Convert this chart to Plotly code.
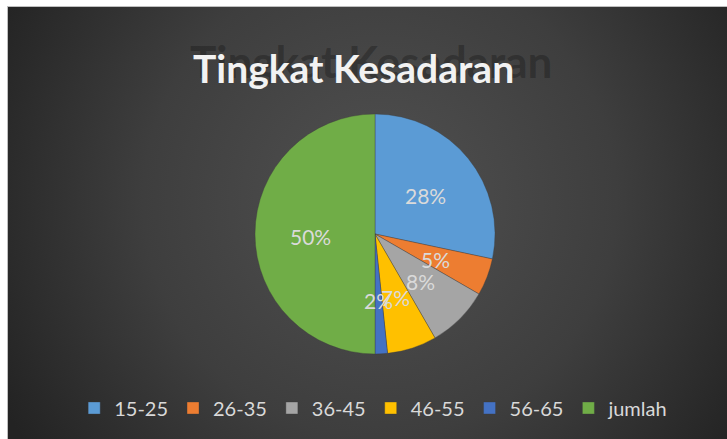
import base64
import math
import plotly.graph_objects as go

categories = ["15-25", "26-35", "36-45", "46-55", "56-65", "jumlah"]
values = [17, 3, 5, 4, 1, 30]
colors = ["#5B9BD5", "#ED7D31", "#A5A5A5", "#FFC000", "#4472C4", "#70AD47"]
title_text = "Tingkat Kesadaran"

W, H = 727, 439
# pie placement (pixels)
CX, CY, R = 375, 234, 120

svg = f'''<svg xmlns="http://www.w3.org/2000/svg" width="{W}" height="{H}">
<defs><radialGradient id="g" cx="380" cy="200" r="430" gradientUnits="userSpaceOnUse">
<stop offset="0" stop-color="#515151"/><stop offset="0.55" stop-color="#3e3e3e"/><stop offset="1" stop-color="#232323"/>
</radialGradient></defs>
<rect x="0" y="0" width="{W}" height="{H}" fill="#ffffff"/>
<rect x="8" y="7" width="{W-8}" height="{H-7}" fill="url(#g)"/>
<rect x="7.5" y="6.5" width="{W-7}" height="{H-6}" fill="none" stroke="#bfbfbf" stroke-width="1"/>
</svg>'''
src = "data:image/svg+xml;base64," + base64.b64encode(svg.encode()).decode()

fig = go.Figure(go.Pie(
    labels=categories,
    values=values,
    sort=False,
    direction="clockwise",
    rotation=0,
    marker=dict(colors=colors, line=dict(color="rgba(60,60,60,0.6)", width=0.6)),
    textinfo="none",
    domain=dict(x=[(CX - R) / W, (CX + R) / W], y=[1 - (CY + R) / H, 1 - (CY - R) / H]),
    hoverinfo="label+percent",
))

# data labels placed Excel-style along each slice's mid angle
total = sum(values)
annotations = []
cum = 0
for v in values:
    frac = v / total
    mid = (cum + frac / 2) * 2 * math.pi
    cum += frac
    r = 0.54 * R
    px = CX + r * math.sin(mid)
    py = CY - r * math.cos(mid) + 2
    annotations.append(dict(text=f"{frac*100:.0f}%", x=px / W, y=1 - py / H, xref="paper", yref="paper",
                            xanchor="center", yanchor="middle", showarrow=False,
                            font=dict(family="Lato", size=21, color="#dadada")))

annotations = [
    dict(text="<b>" + title_text + "</b>", x=371 / W, y=1 - 61 / H, xref="paper", yref="paper",
         xanchor="center", yanchor="middle", showarrow=False,
         font=dict(family="Lato", size=44, color="rgba(10,10,10,0.3)")),
    dict(text="<b>" + title_text + "</b>", x=353 / W, y=1 - 68 / H, xref="paper", yref="paper",
         xanchor="center", yanchor="middle", showarrow=False,
         font=dict(family="Lato", size=39, color="#f2f2f2")),
] + annotations

fig.update_layout(
    width=W, height=H,
    margin=dict(l=0, r=0, t=0, b=0),
    paper_bgcolor="#ffffff",
    images=[dict(source=src, xref="paper", yref="paper", x=0, y=1, sizex=1, sizey=1,
                 xanchor="left", yanchor="top", sizing="stretch", layer="below")],
    legend=dict(orientation="h", x=0.514, xanchor="center", y=1 - 408 / H, yanchor="middle",
                font=dict(family="Lato", size=20, color="#d9d9d9"),
                bgcolor="rgba(0,0,0,0)", itemwidth=30),
    annotations=annotations,
)

fig.write_html("out.html")
